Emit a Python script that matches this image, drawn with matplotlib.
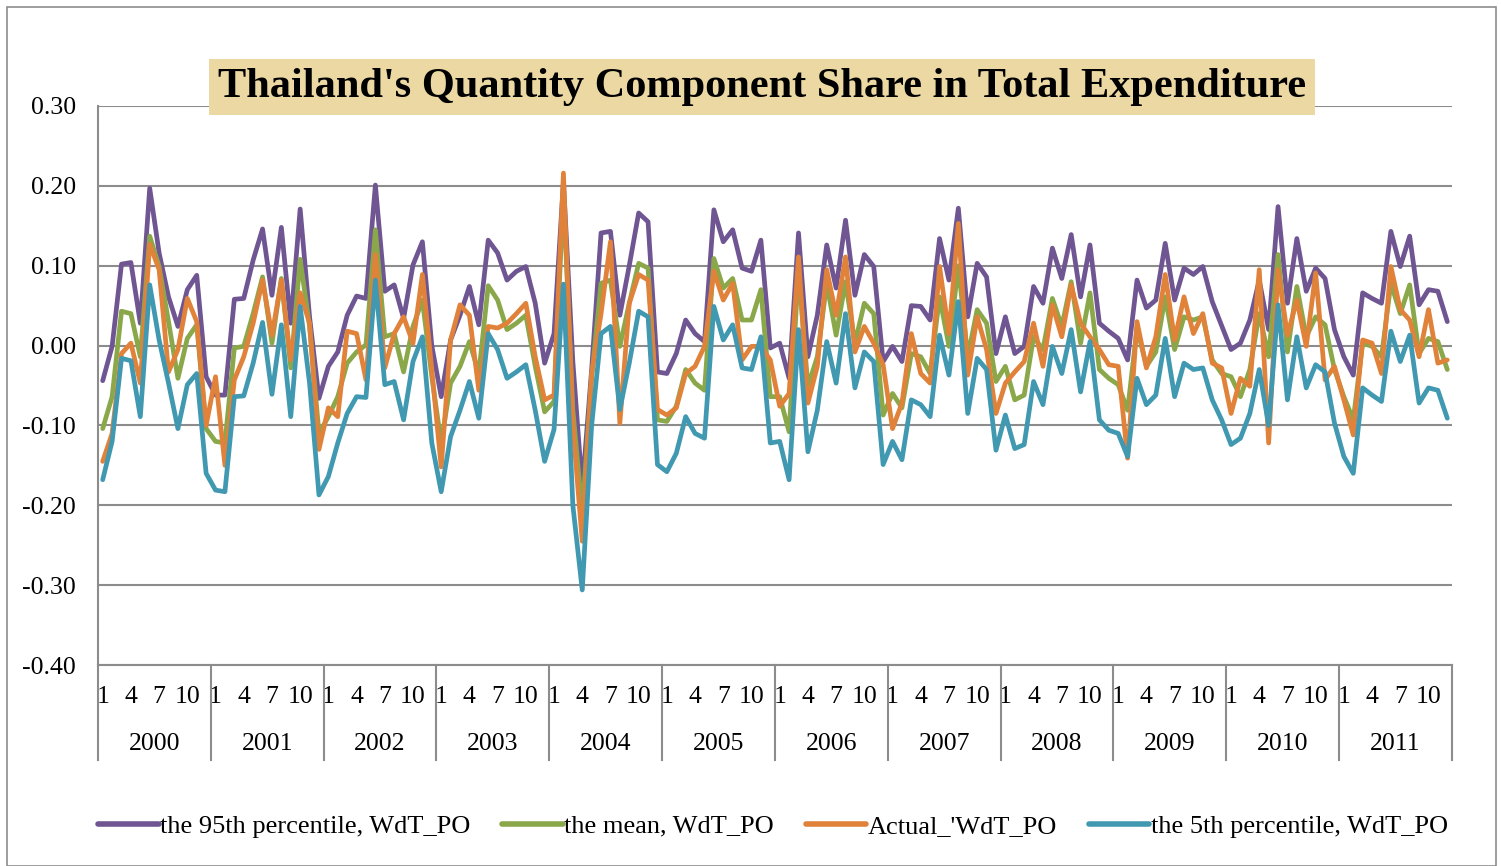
import numpy as np
import matplotlib
matplotlib.use("Agg")
import matplotlib.pyplot as plt
from matplotlib.patches import Rectangle
from matplotlib.lines import Line2D

plt.rcParams['font.family'] = ['Liberation Serif', 'DejaVu Serif']

years = [str(y) for y in range(2000, 2012)]
month_ticks = [1, 4, 7, 10]

p95 = [-0.044, -0.001, 0.102, 0.104, 0.028, 0.197, 0.116, 0.061, 0.024, 0.070, 0.088, -0.039,
       -0.062, -0.062, 0.058, 0.059, 0.107, 0.146, 0.063, 0.148, 0.028, 0.171, 0.036, -0.066,
       -0.026, -0.008, 0.038, 0.062, 0.059, 0.201, 0.068, 0.076, 0.034, 0.101, 0.130, 0.000,
       -0.064, 0.007, 0.038, 0.074, 0.026, 0.132, 0.116, 0.082, 0.093, 0.099, 0.053, -0.022,
       0.015, 0.205, -0.020, -0.179, -0.030, 0.141, 0.143, 0.038, 0.100, 0.166, 0.155, -0.033,
       -0.035, -0.010, 0.032, 0.015, 0.005, 0.170, 0.130, 0.145, 0.097, 0.093, 0.132, -0.003,
       0.003, -0.041, 0.141, -0.014, 0.038, 0.126, 0.072, 0.157, 0.063, 0.114, 0.099, -0.020,
       -0.001, -0.020, 0.050, 0.049, 0.032, 0.134, 0.082, 0.172, 0.036, 0.103, 0.086, -0.010,
       0.036, -0.010, -0.001, 0.074, 0.053, 0.122, 0.084, 0.139, 0.061, 0.126, 0.028, 0.018,
       0.009, -0.018, 0.082, 0.047, 0.057, 0.128, 0.057, 0.097, 0.089, 0.099, 0.055, 0.025,
       -0.005, 0.003, 0.032, 0.082, 0.020, 0.174, 0.053, 0.134, 0.068, 0.097, 0.084, 0.020,
       -0.014, -0.037, 0.066, 0.059, 0.053, 0.143, 0.099, 0.137, 0.051, 0.070, 0.068, 0.030]

mean = [-0.104, -0.064, 0.043, 0.040, -0.014, 0.137, 0.099, 0.030, -0.041, 0.009, 0.026, -0.104,
        -0.120, -0.122, -0.003, -0.001, 0.040, 0.086, 0.003, 0.084, -0.028, 0.108, 0.024, -0.110,
        -0.089, -0.064, -0.022, -0.008, 0.001, 0.145, 0.011, 0.015, -0.033, 0.024, 0.057, -0.039,
        -0.122, -0.047, -0.026, 0.005, -0.035, 0.075, 0.057, 0.020, 0.028, 0.038, -0.026, -0.083,
        -0.070, 0.190, -0.080, -0.210, -0.040, 0.078, 0.082, -0.001, 0.053, 0.103, 0.097, -0.093,
        -0.095, -0.076, -0.030, -0.047, -0.056, 0.109, 0.072, 0.084, 0.032, 0.032, 0.070, -0.064,
        -0.064, -0.108, 0.095, -0.051, -0.014, 0.078, 0.013, 0.080, 0.003, 0.053, 0.040, -0.087,
        -0.060, -0.078, -0.010, -0.014, -0.035, 0.061, -0.001, 0.100, -0.014, 0.045, 0.028, -0.045,
        -0.026, -0.068, -0.062, 0.011, -0.005, 0.059, 0.024, 0.080, 0.003, 0.066, -0.030, -0.041,
        -0.049, -0.081, 0.022, -0.026, -0.008, 0.061, -0.005, 0.036, 0.032, 0.036, -0.018, -0.035,
        -0.039, -0.064, -0.030, 0.040, -0.014, 0.114, -0.008, 0.074, 0.011, 0.036, 0.026, -0.030,
        -0.064, -0.093, 0.003, -0.001, -0.014, 0.078, 0.040, 0.076, -0.010, 0.009, 0.005, -0.030]

actual = [-0.145, -0.110, -0.010, 0.003, -0.047, 0.127, 0.095, -0.033, -0.005, 0.059, 0.030, -0.100,
          -0.039, -0.150, -0.043, -0.014, 0.028, 0.082, 0.013, 0.082, -0.018, 0.066, 0.028, -0.130,
          -0.078, -0.089, 0.018, 0.015, -0.043, 0.114, -0.028, 0.015, 0.036, 0.003, 0.089, -0.030,
          -0.152, 0.007, 0.051, 0.038, -0.056, 0.024, 0.022, 0.028, 0.040, 0.053, -0.014, -0.068,
          -0.062, 0.216, -0.100, -0.245, -0.035, 0.040, 0.130, -0.097, 0.053, 0.089, 0.082, -0.080,
          -0.087, -0.078, -0.035, -0.026, -0.001, 0.093, 0.057, 0.078, -0.018, -0.001, -0.001, -0.018,
          -0.076, -0.060, 0.111, -0.072, -0.026, 0.095, 0.038, 0.111, -0.008, 0.024, 0.003, -0.024,
          -0.104, -0.072, 0.015, -0.035, -0.047, 0.099, 0.015, 0.153, -0.037, 0.036, -0.005, -0.085,
          -0.047, -0.033, -0.020, 0.028, -0.026, 0.051, 0.011, 0.076, 0.028, 0.011, -0.005, -0.024,
          -0.026, -0.141, 0.030, -0.028, 0.011, 0.089, 0.007, 0.061, 0.015, 0.040, -0.022, -0.028,
          -0.085, -0.041, -0.051, 0.095, -0.122, 0.095, 0.013, 0.057, -0.001, 0.091, -0.043, -0.026,
          -0.068, -0.112, 0.007, 0.003, -0.035, 0.099, 0.045, 0.032, -0.014, 0.045, -0.022, -0.018]

p5 = [-0.168, -0.120, -0.016, -0.019, -0.089, 0.076, 0.007, -0.047, -0.104, -0.049, -0.035, -0.160,
      -0.181, -0.183, -0.064, -0.063, -0.022, 0.029, -0.061, 0.026, -0.089, 0.049, -0.047, -0.187,
      -0.164, -0.122, -0.085, -0.064, -0.065, 0.082, -0.049, -0.045, -0.093, -0.020, 0.011, -0.122,
      -0.183, -0.114, -0.081, -0.045, -0.091, 0.015, -0.005, -0.041, -0.033, -0.024, -0.081, -0.145,
      -0.105, 0.077, -0.200, -0.306, -0.100, 0.015, 0.024, -0.080, -0.022, 0.043, 0.036, -0.149,
      -0.158, -0.135, -0.089, -0.110, -0.116, 0.049, 0.007, 0.026, -0.028, -0.030, 0.011, -0.122,
      -0.120, -0.168, 0.020, -0.133, -0.081, 0.005, -0.047, 0.040, -0.053, -0.008, -0.020, -0.149,
      -0.120, -0.143, -0.068, -0.074, -0.089, 0.013, -0.037, 0.055, -0.085, -0.016, -0.030, -0.131,
      -0.087, -0.129, -0.124, -0.045, -0.074, -0.001, -0.035, 0.020, -0.058, 0.005, -0.093, -0.106,
      -0.110, -0.139, -0.041, -0.074, -0.062, 0.009, -0.064, -0.022, -0.030, -0.028, -0.068, -0.093,
      -0.124, -0.116, -0.085, -0.030, -0.100, 0.051, -0.068, 0.011, -0.053, -0.024, -0.033, -0.097,
      -0.139, -0.160, -0.053, -0.062, -0.070, 0.018, -0.020, 0.013, -0.072, -0.053, -0.056, -0.091]

labels = ["the 95th percentile, WdT_PO", "the mean, WdT_PO",
          "Actual_'WdT_PO", "the 5th percentile, WdT_PO"]
colors = ['#6f5592', '#8aa84a', '#e0823a', '#4198b1']
grid_c = '#8c8c8c'
fs = 18.5

fig = plt.figure(figsize=(15.01, 8.66), dpi=100)
fig.patches.append(Rectangle((7 / 1501, 0), 1489 / 1501, 1 - 7 / 866, transform=fig.transFigure,
                             fill=False, edgecolor=grid_c, lw=1.2))
ax = fig.add_axes([98 / 1501, 1 - 665 / 866, 1354 / 1501, 559 / 866])

x = np.arange(len(p95))
for series, c, lab in zip([p95, mean, actual, p5], colors, labels):
    ax.plot(x, series, color=c, lw=3.4, label=lab, solid_joinstyle='round', solid_capstyle='round')

ax.set_xlim(-0.5, len(p95) - 0.5)
ax.set_ylim(-0.40, 0.30)
yt = np.round(np.arange(-0.40, 0.301, 0.10), 2)
ax.set_yticks(yt)
ax.set_yticklabels([f"{abs(v):.2f}" if abs(v) < 1e-9 else f"{v:.2f}" for v in yt], fontsize=fs)
ax.yaxis.grid(True, color=grid_c, lw=1.5)
ax.set_axisbelow(True)
ax.tick_params(axis='y', length=0, pad=16)
for s in ['top', 'right']:
    ax.spines[s].set_visible(False)
ax.spines['left'].set_color(grid_c)
ax.spines['left'].set_linewidth(1.5)
ax.spines['bottom'].set_color(grid_c)
ax.spines['bottom'].set_linewidth(1.5)

# month ticks and year groups
tick_pos = [12 * k + m - 1 for k in range(len(years)) for m in month_ticks]
ax.set_xticks(tick_pos)
ax.set_xticklabels([str(m) for k in range(len(years)) for m in month_ticks], fontsize=fs)
ax.tick_params(axis='x', length=0, pad=15)
trans = ax.get_xaxis_transform()
sep_depth = -(760 - 665) / 559
for k in range(len(years) + 1):
    ax.plot([12 * k - 0.5, 12 * k - 0.5], [0, sep_depth], transform=trans, color=grid_c,
            lw=1.5, clip_on=False)
for k, yr in enumerate(years):
    ax.text(12 * k + 5.5, -(744 - 665) / 559, yr, transform=trans, ha='center', va='center',
            fontsize=fs)

fig.text(762 / 1501, 1 - 87 / 866, "Thailand's Quantity Component Share in Total Expenditure",
         ha='center', va='center', fontsize=30.5, fontweight='bold',
         bbox=dict(boxstyle='square,pad=0.22', facecolor='#ecd8a3', edgecolor='none'))

handles = [Line2D([], [], color=c, lw=4, solid_capstyle='round') for c in colors]
fig.legend(handles, labels, loc='center', bbox_to_anchor=(0.515, 1 - 826 / 866), ncol=4,
           frameon=False, fontsize=19, handlelength=2.3, handletextpad=0.05, columnspacing=1.2)

fig.savefig('out.png', dpi=100)
